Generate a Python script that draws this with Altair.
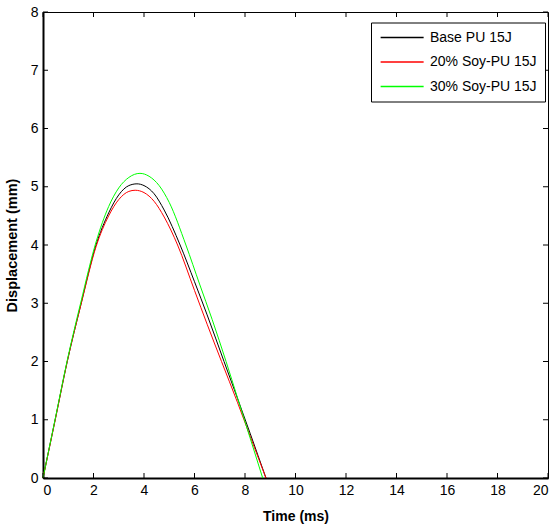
import altair as alt
import pandas as pd

# Time (ms) and displacement (mm)
base_t = [0, 0.5, 0.96, 1.5, 2.1, 2.6, 3.0, 3.4, 3.72, 4.0, 4.4, 4.8, 5.43, 6.0, 6.5, 7.17, 7.7, 8.2, 8.83]
base_y = [0, 1.04, 2.0, 2.98, 4.0, 4.55, 4.86, 5.02, 5.05, 5.02, 4.88, 4.6, 4.0, 3.37, 2.8, 2.0, 1.37, 0.77, 0]

soy20_t = [0, 0.5, 0.96, 1.5, 2.1, 2.6, 3.0, 3.4, 3.65, 4.0, 4.4, 4.8, 5.33, 6.0, 6.5, 7.07, 7.7, 8.2, 8.83]
soy20_y = [0, 1.03, 2.0, 2.97, 3.97, 4.5, 4.78, 4.92, 4.94, 4.9, 4.75, 4.48, 4.0, 3.22, 2.64, 2.0, 1.3, 0.72, 0]

soy30_t = [0, 0.5, 0.96, 1.5, 2.1, 2.6, 3.0, 3.4, 3.84, 4.2, 4.6, 5.0, 5.66, 6.2, 6.7, 7.25, 7.7, 8.2, 8.7]
soy30_y = [0, 1.05, 2.02, 3.02, 4.05, 4.66, 4.98, 5.16, 5.23, 5.18, 5.02, 4.73, 4.0, 3.33, 2.72, 2.0, 1.38, 0.69, 0]

series_names = ["Base PU 15J", "20% Soy-PU 15J", "30% Soy-PU 15J"]
series_colors = ["#000000", "#ff0000", "#00ff00"]

x_ticks = [0, 2, 4, 6, 8, 10, 12, 14, 16, 18, 20]
y_ticks = [0, 1, 2, 3, 4, 5, 6, 7, 8]

rows = []
for name, ts, ys in zip(series_names, [base_t, soy20_t, soy30_t], [base_y, soy20_y, soy30_y]):
    for t, y in zip(ts, ys):
        rows.append({"t": t, "d": y, "series": name})
df = pd.DataFrame(rows)
xt = pd.DataFrame({"t": x_ticks})
yt = pd.DataFrame({"d": y_ticks})

W, H = 505, 466
FONT = "Liberation Sans, Arial"

xscale = alt.Scale(domain=[0, 20], nice=False, zero=False)
yscale = alt.Scale(domain=[0, 8], nice=False, zero=False)

x_axis = alt.Axis(values=x_ticks, tickSize=0, labelPadding=5, titlePadding=12,
                  domainWidth=2, domainColor="black", grid=False,
                  labelFont=FONT, labelFontSize=14, labelColor="black",
                  titleFont=FONT, titleFontSize=14, titleFontWeight="bold", titleColor="black")
y_axis = alt.Axis(values=y_ticks, tickSize=0, labelPadding=5, titlePadding=11,
                  domainWidth=2, domainColor="black", grid=False,
                  labelFont=FONT, labelFontSize=14, labelColor="black",
                  titleFont=FONT, titleFontSize=14.5, titleFontWeight="bold", titleColor="black")

lines = alt.Chart(df).mark_line(strokeWidth=1, interpolate="monotone").encode(
    x=alt.X("t:Q", scale=xscale, title="Time (ms)", axis=x_axis),
    y=alt.Y("d:Q", scale=yscale, title="Displacement (mm)", axis=y_axis),
    color=alt.Color("series:N", sort=series_names,
                    scale=alt.Scale(domain=series_names, range=series_colors),
                    legend=alt.Legend(title=None, orient="none", legendX=328, legendY=10.5,
                                      symbolType="M-1,0H7", symbolSize=115.6, symbolStrokeWidth=1.3,
                                      symbolFillColor="transparent",
                                      labelFont=FONT, labelFontSize=14, labelColor="black",
                                      labelOffset=37, padding=8, rowPadding=10.5,
                                      strokeColor="black", fillColor="white")),
    order="t:Q",
)

bottom_ticks = alt.Chart(xt).mark_rule(color="black", strokeWidth=1).encode(
    x=alt.X("t:Q", scale=xscale, title="Time (ms)", axis=x_axis), y=alt.value(H), y2=alt.value(H - 5))
top_ticks = alt.Chart(xt).mark_rule(color="black", strokeWidth=1).encode(
    x=alt.X("t:Q", scale=xscale, title="Time (ms)", axis=x_axis), y=alt.value(0), y2=alt.value(5))
left_ticks = alt.Chart(yt).mark_rule(color="black", strokeWidth=1).encode(
    y=alt.Y("d:Q", scale=yscale, title="Displacement (mm)", axis=y_axis), x=alt.value(0), x2=alt.value(5))
right_ticks = alt.Chart(yt).mark_rule(color="black", strokeWidth=1).encode(
    y=alt.Y("d:Q", scale=yscale, title="Displacement (mm)", axis=y_axis), x=alt.value(W), x2=alt.value(W - 5))

chart = alt.layer(lines, bottom_ticks, top_ticks, left_ticks, right_ticks).properties(
    width=W, height=H,
    autosize=alt.AutoSizeParams(type="none"),
    padding={"left": 43, "top": 12, "right": 7, "bottom": 51},
    background="white",
).configure_view(stroke="black", strokeWidth=1)

chart.save("out.html", embed_options={"renderer": "svg", "actions": False})
